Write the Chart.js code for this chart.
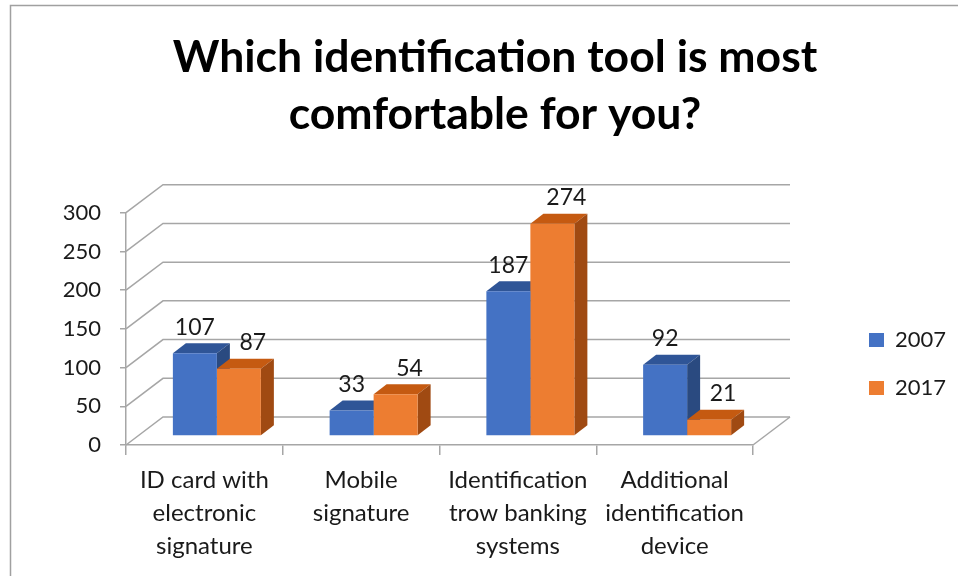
<!DOCTYPE html>
<html><head><meta charset="utf-8">
<script src="https://cdn.jsdelivr.net/npm/chart.js@4/dist/chart.umd.min.js"></script>
<style>html,body{margin:0;padding:0;background:#fff}#wrap{width:958px;height:576px}</style>
</head><body><div id="wrap"><canvas id="c" width="958" height="576"></canvas></div>
<script>
// ---- data ----
const categories = [["ID card with","electronic","signature"],["Mobile","signature"],["Identification","trow banking","systems"],["Additional","identification","device"]];
const seriesNames = ["2007","2017"];
const values2007 = [107,33,187,92];
const values2017 = [87,54,274,21];
const yTicks = [0,50,100,150,200,250,300];
const titleLines = ["Which identification tool is most","comfortable for you?"];

// ---- style ----
const FONT = "Lato, 'Noto Sans', sans-serif";
const TEXT = '#1a1a1a';
const GRID = '#a6a6a6';
const WALL = {dx: 37, dy: -28};        // depth of the back wall
const BAR_SHIFT = {x: 12.5, y: -9};     // bars sit a bit behind the front edge
const BAR_DEPTH = {dx: 13, dy: -10};
const faceColors = [
  {front:'#4472C4', top:'#2f5597', side:'#2a4a80'},
  {front:'#ED7D31', top:'#c55a11', side:'#a04a12'}
];
const labelDx = [0, 14];
const LEGEND_BOX = {x: 869, y: 333};

const border = {
  id:'border',
  beforeDraw(chart){
    const c = chart.ctx;
    c.save();
    c.fillStyle = '#fff'; c.fillRect(0,0,chart.width,chart.height);
    c.strokeStyle = '#a0a0a0'; c.lineWidth = 1.5;
    c.beginPath(); c.moveTo(10.5, chart.height); c.lineTo(10.5, 5.5); c.lineTo(chart.width, 5.5); c.stroke();
    c.restore();
  }
};

const legendPlace = {
  id:'legendPlace',
  beforeLayout(chart){
    const lg = chart.legend;
    if (lg && !lg._patched){
      const f = lg.fit.bind(lg);
      lg.fit = function(){ f(); this.width = 205; };
      lg._patched = true;
    }
  },
  afterLayout(chart){
    const lg = chart.legend; if(!lg) return;
    const pad = lg.options.labels.padding;
    const w = lg.width, h = lg.height;
    lg.left = LEGEND_BOX.x - pad; lg.right = lg.left + w;
    lg.top = LEGEND_BOX.y - pad - 4; lg.bottom = lg.top + h;
  }
};

const threeD = {
  id:'threeD',
  beforeDatasetsDraw(chart){
    const c = chart.ctx, xs = chart.scales.x, ys = chart.scales.y;
    const L = xs.left, R = xs.right;
    c.save();
    c.strokeStyle = GRID; c.lineWidth = 1.5;
    ys.ticks.forEach(t => {
      const yf = ys.getPixelForValue(t.value);
      c.beginPath();
      c.moveTo(L, yf); c.lineTo(L + WALL.dx, yf + WALL.dy);
      c.lineTo(R + WALL.dx, yf + WALL.dy);
      c.stroke();
    });
    const y0 = ys.getPixelForValue(0);
    c.beginPath(); c.moveTo(R, y0); c.lineTo(R + WALL.dx, y0 + WALL.dy); c.stroke();
    chart.data.datasets.forEach((ds, di) => {
      const meta = chart.getDatasetMeta(di);
      meta.data.forEach(el => {
        const p = el.getProps(['x','y','base','width'], true);
        const l = p.x - p.width/2 + BAR_SHIFT.x, r = l + p.width;
        const t = p.y + BAR_SHIFT.y, b = p.base + BAR_SHIFT.y;
        c.fillStyle = faceColors[di].top;
        c.beginPath(); c.moveTo(l,t); c.lineTo(r,t); c.lineTo(r+BAR_DEPTH.dx,t+BAR_DEPTH.dy); c.lineTo(l+BAR_DEPTH.dx,t+BAR_DEPTH.dy); c.closePath(); c.fill();
        c.fillStyle = faceColors[di].side;
        c.beginPath(); c.moveTo(r,t); c.lineTo(r+BAR_DEPTH.dx,t+BAR_DEPTH.dy); c.lineTo(r+BAR_DEPTH.dx,b+BAR_DEPTH.dy); c.lineTo(r,b); c.closePath(); c.fill();
      });
    });
    c.restore();
    c.save();
    c.translate(BAR_SHIFT.x, BAR_SHIFT.y);
  },
  afterDatasetsDraw(chart){
    const c = chart.ctx;
    c.restore();
    c.save();
    c.font = "23px " + FONT; c.fillStyle = TEXT; c.textAlign = 'center'; c.textBaseline = 'middle';
    chart.data.datasets.forEach((ds, di) => {
      chart.getDatasetMeta(di).data.forEach((el, i) => {
        const p = el.getProps(['x','y'], true);
        c.fillText(String(ds.data[i]), p.x + BAR_SHIFT.x + labelDx[di], p.y + BAR_SHIFT.y - 26);
      });
    });
    c.restore();
  }
};

new Chart(document.getElementById('c'), {
  type:'bar',
  data:{
    labels: categories,
    datasets:[
      {label: seriesNames[0], data: values2007, backgroundColor: faceColors[0].front},
      {label: seriesNames[1], data: values2017, backgroundColor: faceColors[1].front}
    ]
  },
  options:{
    responsive:false, animation:false,
    layout:{padding:{left:32, right:0, top:0, bottom:0}},
    datasets:{bar:{categoryPercentage:0.5614, barPercentage:1, borderWidth:0, clip:false}},
    plugins:{
      tooltip:{enabled:false},
      title:{display:true, text:titleLines, color:'#000',
        font:{family:FONT, size:44.5, weight:'bold', lineHeight:57/44.5},
        padding:{top:29.5, bottom:69.2}},
      legend:{position:'right', align:'start',
        labels:{font:{family:FONT, size:22}, color:TEXT, boxWidth:15, boxHeight:14, padding:26}}
    },
    scales:{
      x:{
        grid:{display:true, drawOnChartArea:false, drawTicks:true, tickLength:10, color:GRID, lineWidth:1.5},
        border:{display:true, color:GRID, width:1.5},
        ticks:{font:{family:FONT, size:24, lineHeight:33/24}, color:TEXT, padding:8.5, maxRotation:0, autoSkip:false},
        afterFit(s){ s.height = 131; }
      },
      y:{
        min:0, max:300,
        afterBuildTicks(s){ s.ticks = yTicks.map(v => ({value:v})); },
        grid:{display:true, drawOnChartArea:false, drawTicks:true, tickLength:6, color:GRID, lineWidth:1.5},
        border:{display:true, color:GRID, width:1.5},
        ticks:{font:{family:FONT, size:22}, color:TEXT, padding:19},
        afterFit(s){ s.width = 94; }
      }
    }
  },
  plugins:[border, legendPlace, threeD]
});
</script></body></html>
